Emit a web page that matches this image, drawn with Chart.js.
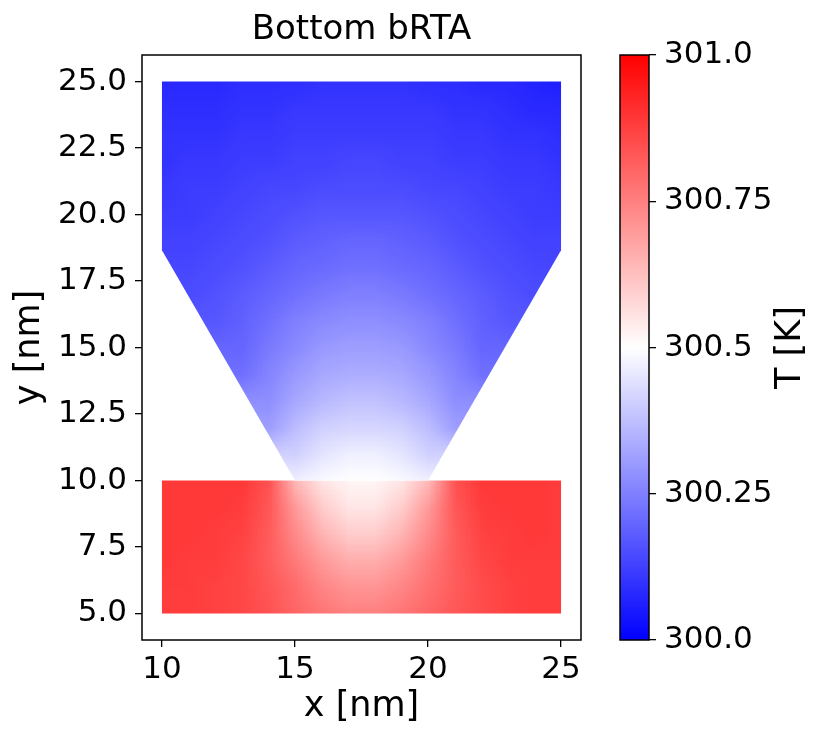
<!DOCTYPE html>
<html lang="en">
<head>
<meta charset="UTF-8" />
<title>Bottom bRTA</title>
<script src="https://cdn.jsdelivr.net/npm/chart.js"></script>
<style>
  body { margin: 0; background: #fff; }
  .wrap { position: relative; width: 831px; height: 744px; background: #fff; }
  #fieldChart { position: absolute; left: 0; top: 0; }
  #cbarChart { position: absolute; left: 600px; top: 0; }
</style>
</head>
<body>
<div class="wrap">
  <canvas id="fieldChart" width="600" height="744"></canvas>
  <canvas id="cbarChart" width="231" height="744"></canvas>
</div>

<script>
// mesh nodes (nm)
const xNodes = [10, 11, 12, 13, 14, 15, 16, 17, 18, 19, 20, 21, 22, 23, 24, 25];
const yTopNodes = [25, 24, 23, 22, 21, 20, 19, 18, 17, 16, 15, 14, 13, 12, 11, 10];
const yBottomNodes = [10, 9, 8, 7, 6, 5];

// temperature [K], null = outside the tip
const tTop = [
  [300.08, 300.08, 300.08, 300.09, 300.09, 300.09, 300.10, 300.10, 300.10, 300.10, 300.09, 300.09, 300.08, 300.08, 300.07, 300.06],
  [300.09, 300.09, 300.09, 300.10, 300.10, 300.11, 300.11, 300.11, 300.11, 300.11, 300.11, 300.10, 300.10, 300.09, 300.08, 300.08],
  [300.10, 300.10, 300.10, 300.11, 300.11, 300.12, 300.12, 300.12, 300.12, 300.12, 300.12, 300.11, 300.11, 300.10, 300.10, 300.09],
  [300.10, 300.11, 300.11, 300.12, 300.12, 300.13, 300.13, 300.14, 300.14, 300.13, 300.13, 300.12, 300.12, 300.11, 300.11, 300.10],
  [300.11, 300.12, 300.12, 300.13, 300.14, 300.14, 300.15, 300.15, 300.15, 300.15, 300.14, 300.14, 300.13, 300.12, 300.12, 300.11],
  [300.12, 300.12, 300.13, 300.14, 300.15, 300.16, 300.17, 300.17, 300.17, 300.17, 300.16, 300.15, 300.14, 300.13, 300.12, 300.12],
  [300.13, 300.13, 300.14, 300.15, 300.16, 300.18, 300.19, 300.20, 300.20, 300.19, 300.18, 300.16, 300.15, 300.14, 300.13, 300.13],
  [null, 300.14, 300.15, 300.16, 300.18, 300.20, 300.21, 300.22, 300.22, 300.21, 300.20, 300.18, 300.16, 300.15, 300.14, null],
  [null, 300.15, 300.16, 300.18, 300.20, 300.22, 300.24, 300.25, 300.25, 300.24, 300.22, 300.20, 300.18, 300.16, 300.15, null],
  [null, null, 300.17, 300.19, 300.22, 300.25, 300.27, 300.28, 300.28, 300.27, 300.25, 300.22, 300.19, 300.17, null, null],
  [null, null, null, 300.20, 300.24, 300.27, 300.30, 300.31, 300.31, 300.30, 300.27, 300.24, 300.20, null, null, null],
  [null, null, null, 300.22, 300.26, 300.30, 300.33, 300.34, 300.34, 300.33, 300.30, 300.26, 300.22, null, null, null],
  [null, null, null, null, 300.28, 300.33, 300.36, 300.38, 300.38, 300.36, 300.33, 300.28, null, null, null, null],
  [null, null, null, null, 300.31, 300.37, 300.41, 300.42, 300.42, 300.41, 300.37, 300.31, null, null, null, null],
  [null, null, null, null, null, 300.41, 300.45, 300.47, 300.47, 300.45, 300.41, null, null, null, null, null],
  [null, null, null, null, null, 300.47, 300.49, 300.50, 300.50, 300.49, 300.47, null, null, null, null, null]
];

const tBottom = [
  [300.89, 300.89, 300.89, 300.89, 300.84, 300.64, 300.55, 300.52, 300.52, 300.55, 300.64, 300.84, 300.89, 300.89, 300.89, 300.88],
  [300.89, 300.89, 300.89, 300.88, 300.83, 300.70, 300.60, 300.55, 300.55, 300.60, 300.70, 300.83, 300.88, 300.89, 300.89, 300.88],
  [300.89, 300.89, 300.88, 300.87, 300.82, 300.73, 300.65, 300.60, 300.60, 300.65, 300.73, 300.82, 300.87, 300.88, 300.89, 300.88],
  [300.89, 300.88, 300.88, 300.86, 300.82, 300.76, 300.70, 300.66, 300.66, 300.70, 300.76, 300.82, 300.86, 300.88, 300.88, 300.88],
  [300.88, 300.88, 300.87, 300.86, 300.83, 300.79, 300.74, 300.71, 300.71, 300.74, 300.78, 300.82, 300.85, 300.87, 300.88, 300.88],
  [300.88, 300.88, 300.87, 300.86, 300.84, 300.80, 300.77, 300.75, 300.75, 300.77, 300.80, 300.83, 300.85, 300.87, 300.88, 300.88]
];

// geometry outlines (nm)
const topOutline = [[15, 10], [20, 10], [25, 18.66], [25, 25], [10, 25], [10, 18.66]];
const bottomOutline = [[10, 5], [25, 5], [25, 10], [10, 10]];

const xTicks = [10, 15, 20, 25];
const yTicks = [5, 7.5, 10, 12.5, 15, 17.5, 20, 22.5, 25];
const cbTicks = [300, 300.25, 300.5, 300.75, 301];
const cbTickLabels = ['300.0', '300.25', '300.5', '300.75', '301.0'];
const tMin = 300, tMax = 301;

Chart.defaults.font.family = "'DejaVu Sans', sans-serif";
Chart.defaults.color = '#000';

// matplotlib bwr
function bwr(T) {
  let f = (T - tMin) / (tMax - tMin);
  f = Math.min(1, Math.max(0, f));
  if (f < 0.5) {
    const v = Math.round(510 * f);
    return [v, v, 255];
  }
  const v = Math.round(510 * (1 - f));
  return [255, v, v];
}

// outside nodes take the nearest value of the row, only so the edge blends
function fillRow(row) {
  return row.map((v, i) => {
    if (v !== null) return v;
    let best = null, dist = 1e9;
    row.forEach((w, j) => {
      if (w !== null && Math.abs(j - i) < dist) { dist = Math.abs(j - i); best = w; }
    });
    return best;
  });
}

function makeImage(rows) {
  const h = rows.length, w = rows[0].length;
  const off = document.createElement('canvas');
  off.width = w;
  off.height = h;
  const octx = off.getContext('2d');
  const img = octx.createImageData(w, h);
  rows.forEach((row, r) => {
    fillRow(row).forEach((T, c) => {
      const [R, G, B] = bwr(T);
      const k = (r * w + c) * 4;
      img.data[k] = R; img.data[k + 1] = G; img.data[k + 2] = B; img.data[k + 3] = 255;
    });
  });
  octx.putImageData(img, 0, 0);
  return off;
}

function drawRegion(chart, rows, yNodes, outline) {
  const { ctx, scales: { x, y } } = chart;
  const img = makeImage(rows);
  ctx.save();
  ctx.beginPath();
  outline.forEach(([px, py], i) => {
    const X = x.getPixelForValue(px), Y = y.getPixelForValue(py);
    if (i) ctx.lineTo(X, Y); else ctx.moveTo(X, Y);
  });
  ctx.closePath();
  ctx.clip();
  ctx.imageSmoothingEnabled = true;
  const dx = xNodes[1] - xNodes[0];
  const dy = yNodes[0] - yNodes[1];
  const left = x.getPixelForValue(xNodes[0] - dx / 2);
  const right = x.getPixelForValue(xNodes[xNodes.length - 1] + dx / 2);
  const top = y.getPixelForValue(yNodes[0] + dy / 2);
  const bottom = y.getPixelForValue(yNodes[yNodes.length - 1] - dy / 2);
  ctx.drawImage(img, left, top, right - left, bottom - top);
  ctx.restore();
}

const fieldPlugin = {
  id: 'field',
  beforeDatasetsDraw(chart) {
    drawRegion(chart, tBottom, yBottomNodes, bottomOutline);
    drawRegion(chart, tTop, yTopNodes, topOutline);
  }
};

const framePlugin = {
  id: 'frame',
  afterDraw(chart) {
    const { ctx, chartArea: a } = chart;
    ctx.save();
    ctx.strokeStyle = '#000';
    ctx.lineWidth = 1.5;
    ctx.strokeRect(a.left, a.top, a.right - a.left, a.bottom - a.top);
    ctx.restore();
  }
};

const cbarLabelPlugin = {
  id: 'cbarLabel',
  afterDraw(chart) {
    const { ctx, chartArea: a } = chart;
    ctx.save();
    ctx.font = "35px 'DejaVu Sans'";
    ctx.fillStyle = '#000';
    ctx.textAlign = 'center';
    ctx.textBaseline = 'middle';
    ctx.translate(chart.width - 40, (a.top + a.bottom) / 2);
    ctx.rotate(-Math.PI / 2);
    ctx.fillText('T [K]', 0, 0);
    ctx.restore();
  }
};

const tickFont = { size: 31 };
const labelFont = { size: 35 };

new Chart(document.getElementById('fieldChart'), {
  type: 'scatter',
  data: { datasets: [] },
  options: {
    responsive: false,
    animation: false,
    layout: { padding: { left: 0, right: 19, top: 0, bottom: 0 } },
    plugins: {
      legend: { display: false },
      tooltip: { enabled: false }
    },
    scales: {
      // top axis only carries the title, so it sits centred over the plot
      top: {
        type: 'linear',
        position: 'top',
        min: 9.25,
        max: 25.75,
        afterFit: s => { s.height = 55; },
        ticks: { display: false },
        grid: { display: false, drawTicks: false },
        border: { display: false },
        title: { display: true, text: 'Bottom bRTA', font: { size: 34 }, color: '#000', padding: { top: 10, bottom: 4 } }
      },
      x: {
        type: 'linear',
        min: 9.25,
        max: 25.75,
        afterBuildTicks: s => { s.ticks = xTicks.map(v => ({ value: v })); },
        afterFit: s => { s.height = 104; },
        ticks: { font: tickFont, color: '#000', padding: 4, maxRotation: 0, autoSkip: false, callback: v => String(v) },
        grid: { drawOnChartArea: false, tickLength: 7, color: '#000', lineWidth: 1.3 },
        border: { display: false },
        title: { display: true, text: 'x [nm]', font: labelFont, color: '#000', padding: { top: 0, bottom: 16 } }
      },
      y: {
        type: 'linear',
        min: 4,
        max: 26,
        afterBuildTicks: s => { s.ticks = yTicks.map(v => ({ value: v })); },
        afterFit: s => { s.width = 142; },
        ticks: { font: tickFont, color: '#000', padding: 8, autoSkip: false, callback: v => v.toFixed(1) },
        grid: { drawOnChartArea: false, tickLength: 7, color: '#000', lineWidth: 1.3 },
        border: { display: false },
        title: { display: true, text: 'y [nm]', font: labelFont, color: '#000', padding: { top: 9, bottom: 0 } }
      }
    }
  },
  plugins: [fieldPlugin, framePlugin]
});

new Chart(document.getElementById('cbarChart'), {
  type: 'bar',
  data: {
    labels: ['T'],
    datasets: [{
      data: [[tMin, tMax]],
      barPercentage: 1,
      categoryPercentage: 1,
      borderWidth: 0,
      backgroundColor: c => {
        const { ctx, chartArea, scales } = c.chart;
        if (!chartArea) return null;
        const y0 = scales.y.getPixelForValue(tMin);
        const y1 = scales.y.getPixelForValue(tMax);
        const g = ctx.createLinearGradient(0, y0, 0, y1);
        [0, 0.5, 1].forEach(f => {
          const [R, G, B] = bwr(tMin + f * (tMax - tMin));
          g.addColorStop(f, `rgb(${R},${G},${B})`);
        });
        return g;
      }
    }]
  },
  options: {
    responsive: false,
    animation: false,
    layout: { padding: { left: 20, right: 0, top: 55, bottom: 104 } },
    plugins: { legend: { display: false }, tooltip: { enabled: false } },
    scales: {
      x: { display: false },
      y: {
        position: 'right',
        min: tMin,
        max: tMax,
        afterBuildTicks: s => { s.ticks = cbTicks.map(v => ({ value: v })); },
        afterFit: s => { s.width = 182; },
        ticks: { font: tickFont, color: '#000', padding: 8, autoSkip: false, callback: (v, i) => cbTickLabels[i] },
        grid: { drawOnChartArea: false, tickLength: 7, color: '#000', lineWidth: 1.3 },
        border: { display: false }
      }
    }
  },
  plugins: [framePlugin, cbarLabelPlugin]
});
</script>
</body>
</html>
